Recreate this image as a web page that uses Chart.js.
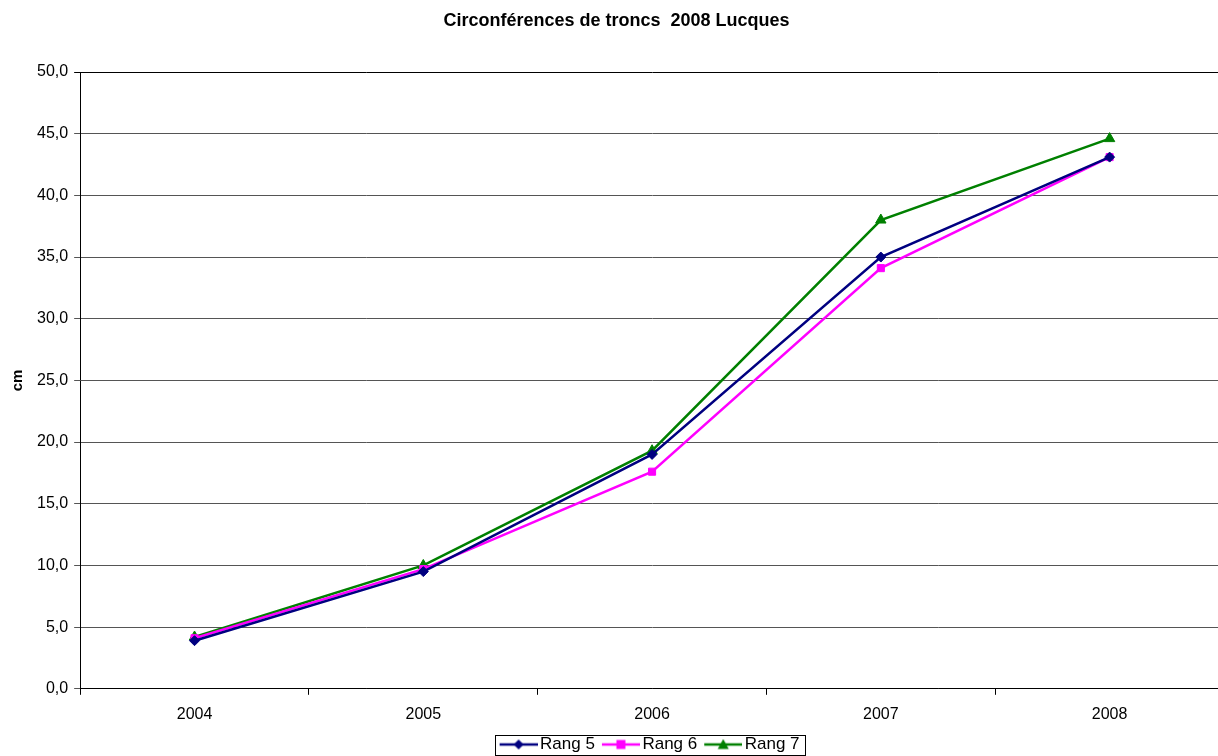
<!DOCTYPE html>
<html>
<head>
<meta charset="utf-8">
<script src="https://cdn.jsdelivr.net/npm/chart.js@4"></script>
<style>
  html, body { margin: 0; padding: 0; background: #fff; overflow: hidden; }
  #wrap { width: 1224px; height: 763px; }
  canvas { display: block; }
</style>
</head>
<body>
<div id="wrap"><canvas id="myChart" width="1224" height="763"></canvas></div>
<script>
const years = ["2004", "2005", "2006", "2007", "2008"];
const rang5 = [3.9, 9.5, 19.0, 35.0, 43.1];
const rang6 = [4.1, 9.7, 17.6, 34.1, 43.1];
const rang7 = [4.2, 10.0, 19.3, 38.0, 44.6];

const FONT = "'Liberation Sans', Arial, sans-serif";

// line + marker picture for the legend (line drawn from 11 to 49)
function legendIcon(color, style) {
    const c = document.createElement("canvas");
    c.width = 49;
    c.height = 12;
    const g = c.getContext("2d");
    g.strokeStyle = color;
    g.fillStyle = color;
    g.lineWidth = 2.5;
    g.beginPath();
    g.moveTo(11, 6);
    g.lineTo(49, 6);
    g.stroke();
    g.beginPath();
    const m = 30;
    if (style === "rectRot") {
        g.moveTo(m, 1); g.lineTo(m + 5, 6); g.lineTo(m, 11); g.lineTo(m - 5, 6);
    } else if (style === "rect") {
        g.rect(m - 4.5, 1.5, 9, 9);
    } else {
        g.moveTo(m, 0.5); g.lineTo(m + 5.5, 10.5); g.lineTo(m - 5.5, 10.5);
    }
    g.closePath();
    g.fill();
    return c;
}

const series = [
    { label: "Rang 5", data: rang5, color: "#000080", style: "rectRot", r: 5 },
    { label: "Rang 6", data: rang6, color: "#FF00FF", style: "rect", r: 5 },
    { label: "Rang 7", data: rang7, color: "#008000", style: "triangle", r: 6 },
];

const legendBox = {
    id: "legendBox",
    afterLayout(chart) {
        // centre the legend roughly under the plot area, as the original does
        chart.legend.left = chart.chartArea.left - 5;
        chart.legend.right = chart.chartArea.right - 5;
    },
    afterDraw(chart) {
        const boxes = chart.legend.legendHitBoxes;
        if (!boxes || !boxes.length) return;
        const last = boxes[boxes.length - 1];
        const left = boxes[0].left;
        const right = last.left + last.width + 5;
        const top = boxes[0].top - 1;
        const ctx = chart.ctx;
        ctx.save();
        ctx.strokeStyle = "#000";
        ctx.lineWidth = 1;
        ctx.strokeRect(Math.round(left) + 0.5, Math.round(top) + 0.5, Math.round(right - left), 20);
        ctx.restore();
    },
};

new Chart(document.getElementById("myChart").getContext("2d"), {
    type: "line",
    data: {
        labels: years,
        datasets: series.map((s) => ({
            label: s.label,
            data: s.data,
            borderColor: s.color,
            backgroundColor: s.color,
            borderWidth: 2.5,
            pointStyle: s.style,
            pointRadius: s.r,
            pointBorderWidth: 1,
            tension: 0,
            fill: false,
        })),
    },
    options: {
        responsive: false,
        animation: false,
        layout: { autoPadding: false, padding: { left: 9, right: 0, top: 0, bottom: 0 } },
        plugins: {
            title: {
                display: true,
                text: "Circonférences de troncs  2008 Lucques",
                color: "#000",
                font: { family: FONT, size: 18, weight: "bold" },
                padding: { top: 10, bottom: 40.4 },
            },
            legend: {
                position: "bottom",
                labels: {
                    color: "#000",
                    font: { family: FONT, size: 17 },
                    usePointStyle: true,
                    pointStyleWidth: 37,
                    boxHeight: 12,
                    padding: 2,
                    generateLabels: (chart) =>
                        series.map((s, i) => ({
                            text: s.label,
                            fontColor: "#000",
                            pointStyle: legendIcon(s.color, s.style),
                            datasetIndex: i,
                            hidden: false,
                        })),
                },
            },
            tooltip: { enabled: false },
        },
        scales: {
            x: {
                offset: true,
                border: { color: "#000", width: 1 },
                grid: {
                    offset: true,
                    drawOnChartArea: false,
                    drawTicks: true,
                    tickLength: 6,
                    color: "#000",
                },
                ticks: {
                    color: "#000",
                    font: { family: FONT, size: 16, lineHeight: 0.95 },
                    padding: 12,
                    maxRotation: 0,
                },
            },
            y: {
                min: 0,
                max: 50,
                border: { color: "#000", width: 1 },
                grid: {
                    color: (c) => (c.index === 10 ? "#000" : "#555"),
                    tickLength: 6,
                },
                ticks: {
                    stepSize: 5,
                    color: "#000",
                    font: { family: FONT, size: 16 },
                    padding: 6,
                    callback: (v) => v.toFixed(1).replace(".", ","),
                },
                title: {
                    display: true,
                    text: "cm",
                    color: "#000",
                    font: { family: FONT, size: 15, weight: "bold" },
                    padding: { top: 0, bottom: 4 },
                },
            },
        },
    },
    plugins: [legendBox],
});
</script>
</body>
</html>
